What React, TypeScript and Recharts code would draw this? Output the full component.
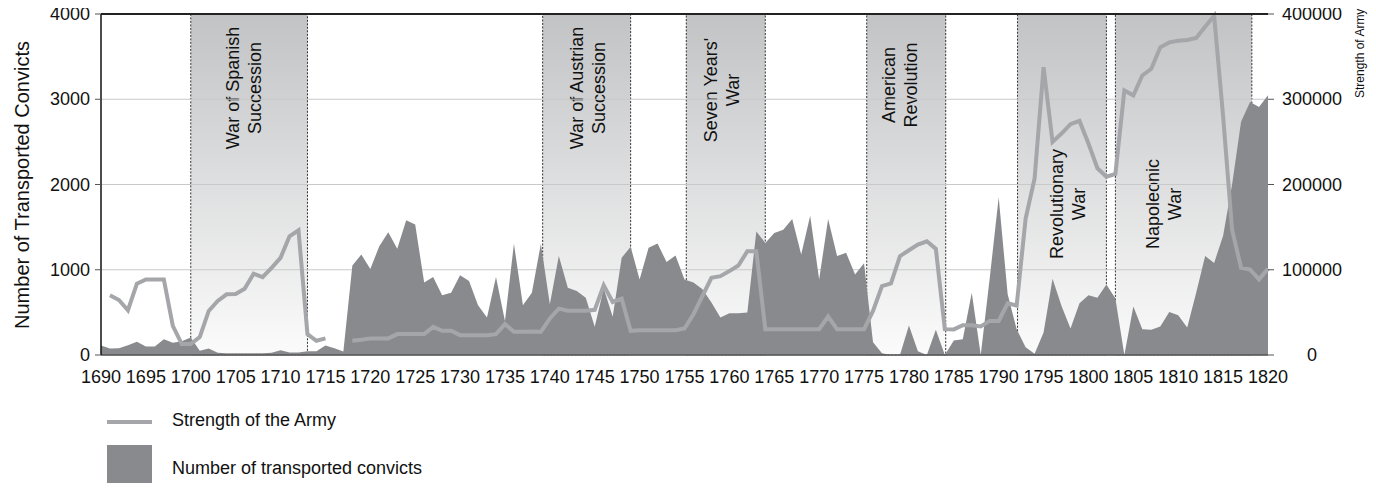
import {
  ComposedChart, Area, Line, XAxis, YAxis, CartesianGrid, ReferenceArea, ReferenceLine,
} from "recharts";

const FONT = '"Liberation Sans", Arial, Helvetica, sans-serif';

const firstYear = 1690;

// transported convicts per year, 1690..1820
const convicts = [
  110, 75, 80, 115, 155, 100, 100, 185, 145, 160,          // 1690s
  205, 50, 75, 25, 20, 20, 20, 20, 20, 25,                 // 1700s
  55, 30, 30, 45, 45, 110, 78, 40, 1050, 1180,             // 1710s
  1010, 1275, 1440, 1245, 1580, 1530, 850, 915, 700, 730,  // 1720s
  935, 867, 585, 440, 915, 400, 1305, 585, 730, 1305,      // 1730s
  595, 1160, 790, 750, 673, 330, 780, 450, 1140, 1270,     // 1740s
  887, 1257, 1307, 1090, 1167, 887, 850, 770, 615, 440,    // 1750s
  490, 490, 498, 1450, 1315, 1430, 1470, 1595, 1180, 1634, // 1760s
  887, 1595, 1160, 1200, 945, 1075, 150, 20, 0, 0,         // 1770s
  345, 45, 0, 295, 0, 170, 185, 730, 0, 900,               // 1780s
  1850, 712, 303, 90, 15, 265, 895, 575, 310, 607,         // 1790s
  700, 673, 828, 662, 0, 568, 303, 295, 335, 505,          // 1800s
  467, 323, 730, 1160, 1080, 1400, 2000, 2735, 2968, 2910, // 1810s
  3046,                                                    // 1820
];

// strength of the army, 1690..1820 (null = no data)
const army = [
  null, 70000, 64500, 52500, 83700, 88700, 88700, 88700, 34200, 12800,
  12800, 21000, 51700, 63400, 71200, 71500, 77800, 95300, 91400, 102300,
  114000, 139200, 146200, 24500, 16700, 19500, null, null, 16700, 17900,
  19500, 19500, 19500, 24500, 24500, 24500, 24500, 33000, 28400, 28400,
  23300, 23300, 23300, 23300, 24500, 36200, 27200, 27200, 27500, 27200,
  42800, 54400, 52000, 52000, 52000, 53000, 81700, 62200, 66200, 28400,
  29000, 29000, 29000, 29000, 29000, 31100, 47800, 69200, 90600, 92500,
  98400, 105000, 121700, 121700, 30300, 30300, 30300, 30300, 30300, 30300,
  30300, 45100, 30300, 30300, 30300, 30300, 51700, 80900, 84000, 115900,
  122900, 129500, 133400, 124500, 30300, 30000, 35000, 35000, 33500, 40000,
  40000, 60700, 58000, 160000, 207000, 337500, 250000, 259800, 270700, 274600,
  248000, 219000, 209200, 212400, 310400, 304600, 327900, 335700, 360900, 366700,
  368700, 369500, 371900, 385000, 397900, 280000, 147000, 102300, 100300, 88700,
  101100,
];

const warNames = [
  ["War of Spanish", "Succession"],
  ["War of Austrian", "Succession"],
  ["Seven Years'", "War"],
  ["American", "Revolution"],
  ["Revolutionary", "War"],
  ["Napoleonic", "War"],
];
const warStart = [1700, 1739.2, 1755.2, 1775.3, 1792.1, 1803];
const warEnd = [1713, 1749, 1764, 1784.1, 1802, 1818.2];

const yearTicks = [
  1690, 1695, 1700, 1705, 1710, 1715, 1720, 1725, 1730, 1735, 1740, 1745, 1750,
  1755, 1760, 1765, 1770, 1775, 1780, 1785, 1790, 1795, 1800, 1805, 1810, 1815, 1820,
];
const convictTicks = [0, 1000, 2000, 3000, 4000];
const armyTicks = [0, 100000, 200000, 300000, 400000];

// layout of the rotated war labels (vertical centre in px, horizontal nudge in px)
const labelCenterY = [88, 88, 90, 85, 204, 204];
const labelNudgeX = [-5, 1, -4, -6, 6, -20];

const data = convicts.map((c, i) => ({ year: firstYear + i, convicts: c, army: army[i] }));

const WarLabel = ({ viewBox, lines, cy, nudge }: any) => {
  if (!viewBox) return null;
  const cx = viewBox.x + viewBox.width / 2 + nudge;
  return (
    <text
      x={cx} y={cy} transform={`rotate(-90, ${cx}, ${cy})`}
      textAnchor="middle" fontFamily={FONT} fontSize={18} fill="#111"
    >
      <tspan x={cx} dy={-5}>{lines[0]}</tspan>
      <tspan x={cx} dy={22}>{lines[1]}</tspan>
    </text>
  );
};

const LeftTick = ({ x, y, payload }: any) => (
  <text x={x} y={y} textAnchor="end" dominantBaseline="central" fontFamily={FONT} fontSize={18} fill="#111">
    {payload.value}
  </text>
);

const RightTick = ({ x, y, payload }: any) => (
  <text x={x + 36} y={y} textAnchor="middle" dominantBaseline="central" fontFamily={FONT} fontSize={18} fill="#111">
    {payload.value}
  </text>
);

export default function App() {
  return (
    <div style={{ position: "relative", width: 1376, height: 491, margin: -8, background: "#fff", overflow: "hidden" }}>
      <ComposedChart
        width={1376} height={400} data={data}
        margin={{ top: 14, right: 28, left: 41, bottom: 15 }}
        style={{ position: "absolute", left: 0, top: 0 }}
      >
        <defs>
          <linearGradient id="warShade" x1="0" y1="0" x2="0" y2="1">
            <stop offset="0%" stopColor="#c2c3c5" />
            <stop offset="100%" stopColor="#fbfbfb" />
          </linearGradient>
        </defs>
        {warNames.map((lines, i) => (
          <ReferenceArea
            key={i} yAxisId="left" x1={warStart[i]} x2={warEnd[i]} y1={0} y2={4000}
            fill="url(#warShade)" fillOpacity={1} stroke="#333" strokeDasharray="2 1.5" strokeWidth={1}
            zIndex={-150}
            label={<WarLabel lines={lines} cy={labelCenterY[i]} nudge={labelNudgeX[i]} />}
          />
        ))}
        <CartesianGrid yAxisId="left" vertical={false} stroke="#c9c9c9" strokeWidth={1} />
        <XAxis
          dataKey="year" type="number" domain={[1690, 1820]} ticks={yearTicks} interval={0}
          tickLine={false} tickSize={0} tickMargin={15} height={30}
          axisLine={{ stroke: "#555", strokeWidth: 1.5 }}
          tick={{ fontFamily: FONT, fontSize: 18, fill: "#111" }}
        />
        <YAxis
          yAxisId="left" domain={[0, 4000]} ticks={convictTicks} width={60}
          axisLine={{ stroke: "#111", strokeWidth: 1.5 }} tickLine={{ stroke: "#555" }} tickSize={6} tickMargin={5}
          tick={<LeftTick />}
        />
        <YAxis
          yAxisId="right" orientation="right" domain={[0, 400000]} ticks={armyTicks} width={80}
          axisLine={false} tickLine={{ stroke: "#555" }} tickSize={6} tickMargin={2}
          tick={<RightTick />}
        />
        <Area
          yAxisId="left" type="linear" dataKey="convicts" stroke="none" fill="#898a8d" fillOpacity={1}
          isAnimationActive={false} dot={false} activeDot={false}
        />
        <Line
          yAxisId="right" type="linear" dataKey="army" stroke="#a5a6a9" strokeWidth={4}
          dot={false} activeDot={false} connectNulls={false} isAnimationActive={false}
        />
        <ReferenceLine yAxisId="left" y={4000} stroke="#222" strokeWidth={2} zIndex={600} />
      </ComposedChart>

      <svg width={1376} height={491} style={{ position: "absolute", left: 0, top: 0, pointerEvents: "none" }}>
        <text x={22} y={185} transform="rotate(-90, 22, 185)" textAnchor="middle" dominantBaseline="central"
          fontFamily={FONT} fontSize={20} fill="#111">
          Number of Transported Convicts
        </text>
        <text x={1360} y={98} transform="rotate(-90, 1360, 98)" textAnchor="start" dominantBaseline="central"
          fontFamily={FONT} fontSize={12} fill="#111">
          Strength of Army
        </text>
        <line x1={107} x2={152} y1={422} y2={422} stroke="#a5a6a9" strokeWidth={4} />
        <text x={172} y={420} dominantBaseline="central" fontFamily={FONT} fontSize={18} fill="#111">
          Strength of the Army
        </text>
        <rect x={107} y={445} width={45} height={46} fill="#898a8d" />
        <text x={172} y={468} dominantBaseline="central" fontFamily={FONT} fontSize={18} fill="#111">
          Number of transported convicts
        </text>
      </svg>
    </div>
  );
}
